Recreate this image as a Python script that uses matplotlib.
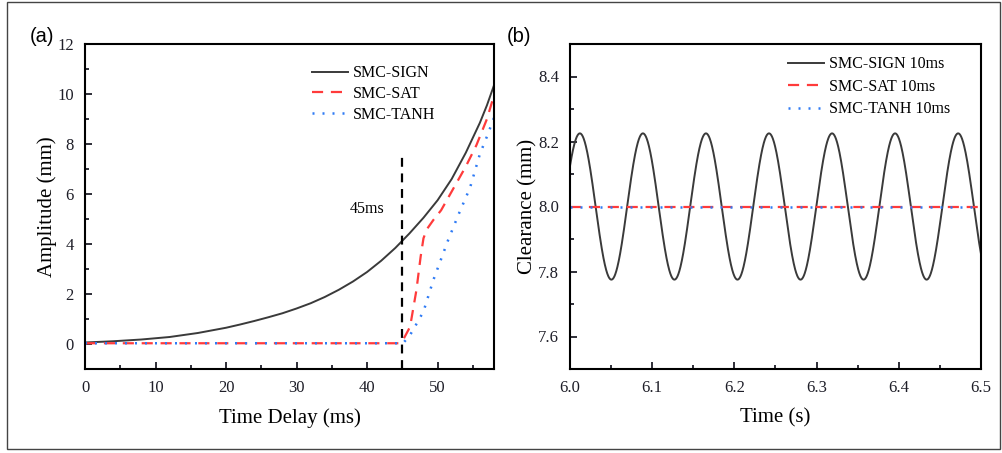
import numpy as np
import matplotlib.pyplot as plt
from matplotlib.patches import Rectangle

# (a) amplitude vs time delay
t_sign = [0, 4, 8, 12, 16, 20, 22, 24, 26, 28, 30, 32, 34, 36, 38, 40, 42, 44, 46, 48, 50, 52, 54,
          56, 57, 58]
amp_sign = [0.06, 0.11, 0.18, 0.28, 0.44, 0.65, 0.78, 0.92, 1.07, 1.23, 1.42, 1.63, 1.88, 2.17, 2.5,
            2.88, 3.33, 3.84, 4.42, 5.05, 5.75, 6.6, 7.65, 8.85, 9.55, 10.35]

t_sat = [0, 10, 20, 30, 40, 44.5, 45.1, 46.1, 47.0, 47.6, 48.0, 48.5, 49.4, 50.5, 52.0, 54.0, 55.5,
         57.0, 58]
amp_sat = [0.03, 0.03, 0.03, 0.03, 0.03, 0.03, 0.16, 0.69, 2.16, 3.5, 4.23, 4.6, 4.96, 5.35, 6.1,
           7.1, 7.95, 9.0, 9.95]

t_tanh = [0, 10, 20, 30, 40, 45.1, 46.1, 47.0, 48.0, 49.4, 50.5, 51.5, 53.0, 54.6, 56.0, 57.0, 58]
amp_tanh = [0.03, 0.03, 0.03, 0.03, 0.03, 0.03, 0.36, 0.8, 1.3, 2.56, 3.4, 4.16, 5.2, 6.25, 7.6, 8.3,
            9.05]

marker_t = 45
marker_top = 7.6

# (b) clearance vs time, 10 ms delay
sign_mean = 8.0
sign_amp = 0.225
sign_period = 0.0767
sign_first_peak = 6.012
sat_level = 8.0
tanh_level = 8.0

serif = 'Liberation Serif'
c_sign = '#3a3a3a'
c_sat = '#ff3b3b'
c_tanh = '#2f7bf5'

fig = plt.figure(figsize=(10.02, 4.53), dpi=100)
fig.patches.append(Rectangle((7 / 1002, 4 / 453), 993 / 1002, 447 / 453, transform=fig.transFigure,
                             fill=False, edgecolor='#444444', linewidth=1.0))

ax1 = fig.add_axes([85 / 1002, 84 / 453, 409 / 1002, 325 / 453])
ax2 = fig.add_axes([570 / 1002, 84 / 453, 411 / 1002, 325 / 453])


def style_axes(ax):
    for s in ax.spines.values():
        s.set_linewidth(1.5)
    ax.tick_params(which='both', direction='in', top=False, right=False, width=1.3,
                   labelsize=12, pad=8, colors='#1e1e28')
    ax.tick_params(which='major', length=5)
    ax.tick_params(which='minor', length=3)
    for lab in ax.get_xticklabels() + ax.get_yticklabels():
        lab.set_fontfamily(serif)


# panel (a)
ax1.plot(t_sign, amp_sign, color=c_sign, lw=1.4, label='SMC-SIGN')
ax1.plot(t_sat, amp_sat, color=c_sat, lw=1.6, dashes=(5, 3.5), label='SMC-SAT')
ax1.plot(t_tanh, amp_tanh, color=c_tanh, lw=1.8, dashes=(0.8, 3.2), label='SMC-TANH')
ax1.plot([marker_t, marker_t], [-1, marker_top], color='black', lw=1.6, dashes=(4, 3))
ax1.text(40, 5.4, '45ms', fontfamily=serif, fontsize=11.5, ha='center', va='center')
ax1.set_xlim(0, 58)
ax1.set_ylim(-1, 12)
ax1.set_xticks(np.arange(0, 51, 10))
ax1.set_xticks(np.arange(5, 58, 10), minor=True)
ax1.set_yticks(np.arange(0, 13, 2))
ax1.set_yticks(np.arange(-1, 12, 2), minor=True)
ax1.set_xlabel('Time Delay (ms)', fontfamily=serif, fontsize=15, labelpad=9)
ax1.set_ylabel('Amplitude (mm)', fontfamily=serif, fontsize=15, labelpad=0)
style_axes(ax1)
ax1.legend(loc='upper left', bbox_to_anchor=(0.555, 0.935), frameon=False, borderpad=0,
           borderaxespad=0, handlelength=2.25, handletextpad=0.3, labelspacing=0.3,
           prop={'family': serif, 'size': 11.5})

# panel (b)
t = np.linspace(6.0, 6.5, 1500)
clearance = sign_mean + sign_amp * np.cos(2 * np.pi * (t - sign_first_peak) / sign_period)
ax2.plot(t, clearance, color=c_sign, lw=1.4, label='SMC-SIGN 10ms')
ax2.plot([6.0, 6.5], [sat_level, sat_level], color=c_sat, lw=1.6, dashes=(5, 3.5), label='SMC-SAT 10ms')
ax2.plot([6.0, 6.5], [tanh_level, tanh_level], color=c_tanh, lw=1.8, dashes=(0.8, 3.2),
         label='SMC-TANH 10ms')
ax2.set_xlim(6.0, 6.5)
ax2.set_ylim(7.5, 8.5)
ax2.set_xticks(np.arange(6.0, 6.51, 0.1))
ax2.set_xticks(np.arange(6.05, 6.5, 0.1), minor=True)
ax2.set_yticks(np.arange(7.6, 8.41, 0.2))
ax2.set_yticks(np.arange(7.5, 8.51, 0.1), minor=True)
ax2.xaxis.set_major_formatter('{x:.1f}')
ax2.yaxis.set_major_formatter('{x:.1f}')
ax2.set_xlabel('Time (s)', fontfamily=serif, fontsize=15, labelpad=9)
ax2.set_ylabel('Clearance (mm)', fontfamily=serif, fontsize=15, labelpad=0)
style_axes(ax2)
ax2.legend(loc='upper left', bbox_to_anchor=(0.53, 0.962), frameon=False, borderpad=0,
           borderaxespad=0, handlelength=2.25, handletextpad=0.3, labelspacing=0.4,
           prop={'family': serif, 'size': 11.5})

fig.text(30 / 1002, 1 - 36 / 453, '(a)', fontfamily='Liberation Sans', fontsize=14.5, va='center')
fig.text(507 / 1002, 1 - 36 / 453, '(b)', fontfamily='Liberation Sans', fontsize=14.5, va='center')

fig.savefig('out.png', dpi=100)
